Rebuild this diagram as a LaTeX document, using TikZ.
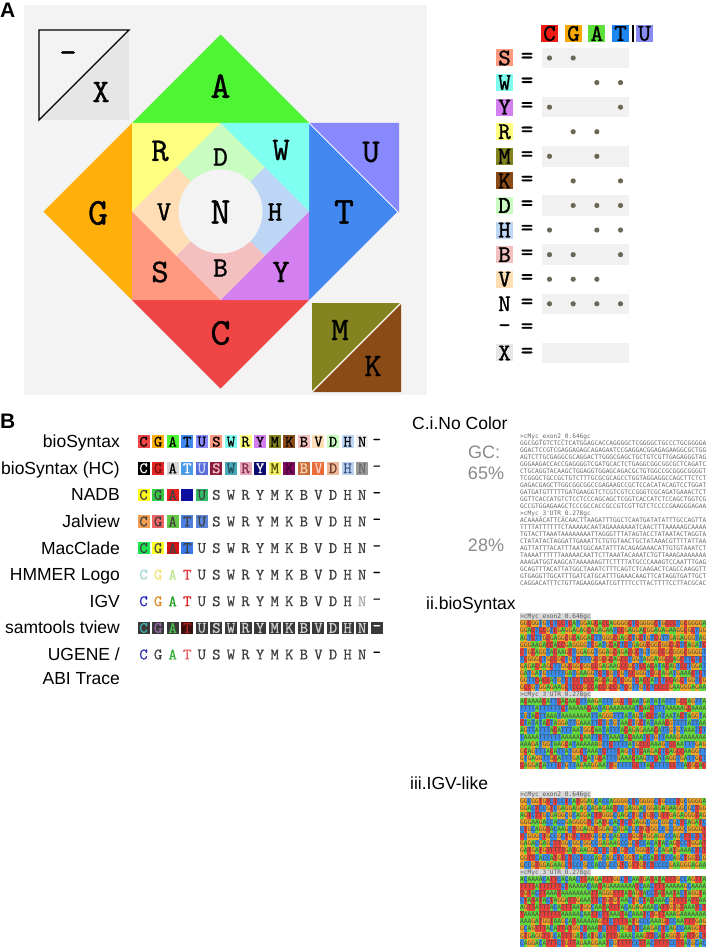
\documentclass[tikz,border=0pt]{standalone}
\usepackage{fontspec}
\setmainfont{Liberation Sans}
\newfontfamily\seqfont{DejaVu Sans Mono}
\newfontfamily\tyfont{lmmono10-regular.otf}[FakeBold=0.9]
\newfontfamily\tyfontB{lmmono10-regular.otf}[FakeBold=0.45]
% panel A colours
\definecolor{bgA}{HTML}{F3F3F3}
\definecolor{cA}{HTML}{4DF533}
\definecolor{cG}{HTML}{FFAE0A}
\definecolor{cC}{HTML}{F04545}
\definecolor{cT}{HTML}{4189F0}
\definecolor{cU}{HTML}{8888FF}
\definecolor{cR}{HTML}{FFFF80}
\definecolor{cW}{HTML}{7FFFEF}
\definecolor{cS}{HTML}{FF9A80}
\definecolor{cY}{HTML}{D47FEF}
\definecolor{cD}{HTML}{C8FCC0}
\definecolor{cH}{HTML}{BDD6F5}
\definecolor{cB}{HTML}{F4BFBF}
\definecolor{cV}{HTML}{FFDDB5}
\definecolor{cM}{HTML}{838320}
\definecolor{cK}{HTML}{8A4B16}
\definecolor{cX}{HTML}{E6E6E6}
\definecolor{nN}{HTML}{EEEEEE}
% legend
\definecolor{hC}{HTML}{EE1C14}
\definecolor{hG}{HTML}{F7A800}
\definecolor{hA}{HTML}{5EE03A}
\definecolor{hT}{HTML}{1E86F0}
\definecolor{hU}{HTML}{8A8AF5}
\definecolor{stripe}{HTML}{F1F1F1}
\definecolor{dotcol}{HTML}{6B6757}
% panel B
\definecolor{pl}{HTML}{404040}
\definecolor{hcG}{HTML}{E02828}\definecolor{hcGt}{HTML}{7A1010}
\definecolor{hcA}{HTML}{D6D6D6}
\definecolor{hcT}{HTML}{4C9BE8}
\definecolor{hcU}{HTML}{5A6ED8}\definecolor{hcUt}{HTML}{C8D0F8}
\definecolor{hcS}{HTML}{8E1B3A}\definecolor{hcSt}{HTML}{E8C0C8}
\definecolor{hcW}{HTML}{4AA6B8}\definecolor{hcWt}{HTML}{1F4F5A}
\definecolor{hcR}{HTML}{E6A5B8}\definecolor{hcRt}{HTML}{8A3050}
\definecolor{hcY}{HTML}{0C0C70}
\definecolor{hcM}{HTML}{F2EE66}\definecolor{hcMt}{HTML}{555500}
\definecolor{hcK}{HTML}{7D0B5E}\definecolor{hcKt}{HTML}{40002F}
\definecolor{hcB}{HTML}{C8703C}\definecolor{hcBt}{HTML}{F5D0B0}
\definecolor{hcV}{HTML}{EA6A38}\definecolor{hcVt}{HTML}{F8D0C0}
\definecolor{hcD}{HTML}{F0B898}\definecolor{hcDt}{HTML}{704030}
\definecolor{hcH}{HTML}{BCD0EE}\definecolor{hcHt}{HTML}{305080}
\definecolor{hcN}{HTML}{9A9A9A}\definecolor{hcNt}{HTML}{6A6A6A}
\definecolor{naY}{HTML}{FFFF1A}
\definecolor{naG}{HTML}{33CC44}
\definecolor{naR}{HTML}{E62020}
\definecolor{naB}{HTML}{0D0DA0}
\definecolor{naU}{HTML}{33BB66}
\definecolor{jaC}{HTML}{F2A054}
\definecolor{jaG}{HTML}{F26464}
\definecolor{jaA}{HTML}{64C846}
\definecolor{jaT}{HTML}{4C80DC}
\definecolor{jaU}{HTML}{5A84D8}
\definecolor{maC}{HTML}{1EE650}
\definecolor{maG}{HTML}{FFFF26}
\definecolor{maA}{HTML}{D41414}
\definecolor{maT}{HTML}{3C78E6}
\definecolor{hmC}{HTML}{A0D8D8}
\definecolor{hmG}{HTML}{F2E278}
\definecolor{hmA}{HTML}{BCE896}
\definecolor{hmT}{HTML}{E03838}
\definecolor{igvC}{HTML}{2323B8}
\definecolor{igvG}{HTML}{E08A23}
\definecolor{igvA}{HTML}{23A023}
\definecolor{igvT}{HTML}{E02323}
\definecolor{igvN}{HTML}{AAAAAA}
\definecolor{stBg}{HTML}{3A3A3A}
\definecolor{stT}{HTML}{3A1010}
\definecolor{stCt}{HTML}{3CB4B4}
\definecolor{stGt}{HTML}{9C6AAA}
\definecolor{stAt}{HTML}{4CC44C}
\definecolor{stTt}{HTML}{B02020}
\definecolor{stXt}{HTML}{CFCFCF}
\definecolor{ugC}{HTML}{3030A8}
\definecolor{ugA}{HTML}{30B030}
\definecolor{ugT}{HTML}{E06060}
% panel C
\definecolor{gcgray}{HTML}{8A8A8A}
\definecolor{seqgray}{HTML}{6A6A6A}
\definecolor{hdrbg}{HTML}{D8D8D8}
\definecolor{bsA}{HTML}{62D83C}
\definecolor{bsC}{HTML}{E8403A}
\definecolor{bsG}{HTML}{F5A626}
\definecolor{bsT}{HTML}{3A8CE8}
\definecolor{igA}{HTML}{62D83C}
\definecolor{igC}{HTML}{3A8CE8}
\definecolor{igG}{HTML}{F5A626}
\definecolor{igT}{HTML}{E8403A}

\newcount\seqi
\def\seqloop#1{%
  \ifx\relax#1%
  \else
    \edef\seqcol{\seqscheme#1}%
    \fill[fill=\seqcol] (\seqx+3.72*\the\seqi,\seqy) rectangle ++(3.9,7.2);%
    \advance\seqi by 1\relax
    \expandafter\seqloop
  \fi}
\def\drawcells#1#2#3#4{%
  \seqi=0\relax
  \def\seqx{#1}\def\seqy{#2}\def\seqscheme{#3}%
  \edef\seqtmp{#4}%
  \expandafter\seqloop\seqtmp\relax}

\def\exonlist{GGCGGTGTCTCCTCATGGAGCACCAGGGGCTCGGGGCTGCCCTGCGGGGA,GGACTCCGTCGAGGAGAGCAGAGAATCCGAGGACGGAGAGAAGGCGCTGG,AGTCTTGCGAGGCGCAGGACTTGGGCGAGCTGCTGTCGTTGAGAGGGTAG,GGGAAGACCACCGAGGGGTCGATGCACTCTGAGGCGGCGGCGCTCAGATC,CTGCAGGTACAAGCTGGAGGTGGAGCAGACGCTGTGGCCGCGGGCGGGGT,TCGGGCTGCCGCTGTCTTTGCGCGCAGCCTGGTAGGAGGCCAGCTTCTCT,GAGACGAGCTTGGCGGCGGCCGAGAAGCCGCTCCACATACAGTCCTGGAT,GATGATGTTTTTGATGAAGGTCTCGTCGTCCGGGTCGCAGATGAAACTCT,GGTTCACCATGTCTCCTCCCAGCAGCTCGGTCACCATCTCCAGCTGGTCG,GCCGTGGAGAAGCTCCCGCCACCGCCGTCGTTGTCTCCCCGAAGGGAGAA}
\def\utrlist{ACAAAACATTCACAACTTAAGATTTGGCTCAATGATATATTTGCCAGTTA,TTTTATTTTTTCTAAAAACAATAGAAAAAAATCAACTTTAAAAAGCAAAA,TGTACTTAAATAAAAAAAATTAGGGTTTATAGTACCTATAATACTAGGTA,CTATATACTAGGATTGAAATTCTGTGTAACTGCTATAAACGTTTTATTAA,AGTTATTTACATTTAATGGCAATATTTACAGAGAAACATTGTGTAAATCT,TAAAATTTTTTAAAAACAATTCTTAAATACAAATCTGTTAAAGAAAAAAA,AAAGATGGTAAGCATAAAAAAGTTCTTTTATGCCCAAAGTCCAATTTGAG,GCAGTTTACATTATGGCTAAATCTTTCAGTCTCAAGACTCAGCCAAGGTT,GTGAGGTTGCATTTGATCATGCATTTGAAACAAGTTCATAGGTGATTGCT,CAGGACATTTCTGTTAGAAGGAATCGTTTTCCTTACTTTTCCTTACGCAC}

\newcommand\brow[3]{%
  \foreach \l/\bg/\tc [count=\i from 0] in {#3}{%
    \node[bl, fill=\bg, text=\tc] (#1\i) at ({143.5+14.58*\i},#2) {\l};}}

\begin{document}
\begin{tikzpicture}[x=1pt,y=-1pt,
  plabel/.style={anchor=base west,inner sep=0,font=\fontsize{21}{21}\selectfont\bfseries},
  bigL/.style={inner sep=0,font=\tyfont\fontsize{38}{38}\selectfont},
  midL/.style={inner sep=0,font=\tyfont\fontsize{33}{33}\selectfont},
  smlL/.style={inner sep=0,font=\tyfont\fontsize{28}{28}\selectfont},
  legfont/.style={inner sep=0,font=\tyfont\fontsize{24}{24}\selectfont},
  legbox/.style={legfont,minimum width=17,minimum height=17},
  bl/.style={inner sep=0,minimum width=12,minimum height=12.5,font=\tyfontB\fontsize{16}{16}\selectfont},
  rowlab/.style={anchor=base east,inner sep=0,font=\fontsize{17.5}{17.5}\selectfont},
  ctitle/.style={anchor=base west,inner sep=0,font=\fontsize{17.5}{17.5}\selectfont},
  gctext/.style={anchor=base,inner sep=0,text=gcgray,font=\fontsize{18}{18}\selectfont},
  seqtxt/.style={anchor=base west,inner sep=0,font=\seqfont\fontsize{6.18}{6.18}\selectfont},
  ontxt/.style={seqtxt,text=black!72},
]
\useasboundingbox (0,0) rectangle (707,947);
\fill[white] (0,0) rectangle (707,947);

%% ---------------- Panel A ----------------
\node[plabel] (labA) at (0,18) {A};
\fill[bgA] (24,5) rectangle (427,395);
% gap / X box
\fill[cX] (39,120) -- (129,30) -- (129,120) -- cycle;
\draw[line width=1.3,line join=miter] (39,120) -- (39,30) -- (129,30) -- cycle;
\node[midL] (xdash) at (68,57) {-};
\node[midL] (xX) at (101,92) {X};
% outer triangles
\fill[cA] (132,123) -- (309,123) -- (220.5,34.5) -- cycle;
\fill[cG] (132,123) -- (132,300) -- (43.5,211.5) -- cycle;
\fill[cC] (132,300) -- (309,300) -- (220.5,388.5) -- cycle;
\fill[cU] (309,123) -- (399,123) -- (399,213) -- cycle;
\fill[cT] (309,123) -- (397.5,211.5) -- (309,300) -- cycle;
\draw[white,line width=0.8] (309,123) -- (398.5,212.5);
% corners
\fill[cR] (132,123) -- (220.5,123) -- (132,211.5) -- cycle;
\fill[cW] (220.5,123) -- (309,123) -- (309,211.5) -- cycle;
\fill[cY] (309,211.5) -- (309,300) -- (220.5,300) -- cycle;
\fill[cS] (132,211.5) -- (220.5,300) -- (132,300) -- cycle;
% inner diamond
\fill[cD] (220.5,123) -- (264.75,167.25) -- (220.5,211.5) -- (176.25,167.25) -- cycle;
\fill[cH] (264.75,167.25) -- (309,211.5) -- (264.75,255.75) -- (220.5,211.5) -- cycle;
\fill[cB] (220.5,211.5) -- (264.75,255.75) -- (220.5,300) -- (176.25,255.75) -- cycle;
\fill[cV] (176.25,167.25) -- (220.5,211.5) -- (176.25,255.75) -- (132,211.5) -- cycle;
\fill[bgA] (220.5,211.5) circle (42);
% M/K box
\fill[cM] (312,303) -- (401,303) -- (312,392) -- cycle;
\fill[cK] (401,303) -- (401,392) -- (312,392) -- cycle;
\draw[white,line width=1.2] (312,392) -- (401,303);
% letters
\node[bigL] (lA) at (220.5,86) {A};
\node[bigL] (lG) at (98,213) {G};
\node[bigL] (lC) at (220.5,333) {C};
\node[bigL] (lT) at (344,212) {T};
\node[bigL] (lN) at (220.5,212) {N};
\node[midL] (lU) at (371,152) {U};
\node[midL] (lR) at (160,151) {R};
\node[midL] (lW) at (281,150) {W};
\node[midL] (lS) at (160,272) {S};
\node[midL] (lY) at (281,272) {Y};
\node[midL] (lM) at (340,330) {M};
\node[midL] (lK) at (373,366) {K};
\node[smlL] (lD) at (220.5,157) {D};
\node[smlL] (lV) at (164,212) {V};
\node[smlL] (lH) at (275,212) {H};
\node[smlL] (lB) at (220.5,268) {B};

%% legend
\node[legbox,fill=hC] (hdC) at (549.5,33.5) {C};
\node[legbox,fill=hG] (hdG) at (573.5,33.5) {G};
\node[legbox,fill=hA] (hdA) at (596.8,33.5) {A};
\node[legbox,fill=hT] (hdT) at (620.5,33.5) {T};
\draw[line width=1.5] (633,25) -- (633,42);
\node[legbox,fill=hU] (hdU) at (644.5,33.5) {U};
\foreach \r in {0,2,...,12}
  \fill[stripe] (542,{58+24.58*\r-10.3}) rectangle (629,{58+24.58*\r+10.3});
\foreach \lab/\col [count=\r from 0] in {S/cS,W/cW,Y/cY,R/cR,M/cM,K/cK,D/cD,H/cH,B/cB,V/cV,N/none}{
  \node[legbox,fill=\col] (leg\r) at (504.5,{58+24.58*\r}) {\lab};
}
\node[legfont] (leg11) at (504.5,{58+24.58*11}) {-};
\node[legbox,fill=cX] (leg12) at (504.5,{58+24.58*12}) {X};
\foreach \r in {0,...,12}
  \node[legfont] (eq\r) at (527,{58+24.58*\r}) {=};
\foreach \r/\c in {0/0,0/1,1/2,1/3,2/0,2/3,3/1,3/2,4/0,4/2,5/1,5/3,6/1,6/2,6/3,7/0,7/2,7/3,8/0,8/1,8/3,9/0,9/1,9/2,10/0,10/1,10/2,10/3}
  \fill[dotcol] ({549.5+23.67*\c},{58+24.58*\r}) circle (2.6);

%% ---------------- Panel B ----------------
\node[plabel] (labB) at (0,428) {B};
\node[rowlab] (n1) at (120,447.7) {bioSyntax};
\node[rowlab] (n2) at (120,474.3) {bioSyntax (HC)};
\node[rowlab] (n3) at (120,500.9) {NADB};
\node[rowlab] (n4) at (120,527.5) {Jalview};
\node[rowlab] (n5) at (120,554.1) {MacClade};
\node[rowlab] (n6) at (120,580.7) {HMMER Logo};
\node[rowlab] (n7) at (120,607.3) {IGV};
\node[rowlab] (n8) at (120,633.9) {samtools tview};
\node[rowlab] (n9) at (120,660.5) {UGENE /};
\node[rowlab] (n10) at (120,684.5) {ABI Trace};

\brow{ra}{441.7}{C/cC/black,G/cG/black,A/cA/black,T/cT/black,U/cU/black,S/cS/black,W/cW/black,R/cR/black,Y/cY/black,M/cM/black,K/cK/black,B/cB/black,V/cV/black,D/cD/black,H/cH/black,N/nN/black,-/none/black}
\brow{rb}{468.3}{C/black/white,G/hcG/hcGt,A/hcA/black,T/hcT/white,U/hcU/hcUt,S/hcS/hcSt,W/hcW/hcWt,R/hcR/hcRt,Y/hcY/white,M/hcM/hcMt,K/hcK/hcKt,B/hcB/hcBt,V/hcV/hcVt,D/hcD/hcDt,H/hcH/hcHt,N/hcN/hcNt,-/none/black}
\brow{rc}{494.9}{C/naY/pl,G/naG/pl,A/naR/pl,T/naB/naB,U/naU/pl,S/none/pl,W/none/pl,R/none/pl,Y/none/pl,M/none/pl,K/none/pl,B/none/pl,V/none/pl,D/none/pl,H/none/pl,N/none/pl,-/none/black}
\brow{rd}{521.5}{C/jaC/pl,G/jaG/pl,A/jaA/pl,T/jaT/pl,U/jaU/pl,S/none/pl,W/none/pl,R/none/pl,Y/none/pl,M/none/pl,K/none/pl,B/none/pl,V/none/pl,D/none/pl,H/none/pl,N/none/pl,-/none/black}
\brow{re}{548.1}{C/maC/pl,G/maG/pl,A/maA/pl,T/maT/pl,U/none/pl,S/none/pl,W/none/pl,R/none/pl,Y/none/pl,M/none/pl,K/none/pl,B/none/pl,V/none/pl,D/none/pl,H/none/pl,N/none/pl,-/none/black}
\brow{rf}{574.7}{C/none/hmC,G/none/hmG,A/none/hmA,T/none/hmT,U/none/pl,S/none/pl,W/none/pl,R/none/pl,Y/none/pl,M/none/pl,K/none/pl,B/none/pl,V/none/pl,D/none/pl,H/none/pl,N/none/pl,-/none/black}
\brow{rg}{601.3}{C/none/igvC,G/none/igvG,A/none/igvA,T/none/igvT,U/none/pl,S/none/pl,W/none/pl,R/none/pl,Y/none/pl,M/none/pl,K/none/pl,B/none/pl,V/none/pl,D/none/pl,H/none/pl,N/none/igvN,-/none/black}
\brow{rh}{627.9}{C/stBg/stCt,G/stBg/stGt,A/stBg/stAt,T/stT/stTt,U/stBg/stXt,S/stBg/stXt,W/stBg/stXt,R/stBg/stXt,Y/stBg/stXt,M/stBg/stXt,K/stBg/stXt,B/stBg/stXt,V/stBg/stXt,D/stBg/stXt,H/stBg/stXt,N/stBg/stXt,-/stBg/white}
\brow{ri}{654.5}{C/none/ugC,G/none/pl,A/none/ugA,T/none/ugT,U/none/pl,S/none/pl,W/none/pl,R/none/pl,Y/none/pl,M/none/pl,K/none/pl,B/none/pl,V/none/pl,D/none/pl,H/none/pl,N/none/pl,-/none/black}

%% ---------------- Panel C ----------------
\node[ctitle] (ci) at (412,429.3) {C.i.No Color};
\node[gctext] (gc) at (484,458.3) {GC:};
\node[gctext] (p65) at (486,479.4) {65\%};
\node[gctext] (p28) at (486,551.4) {28\%};
% i: no colour
\node[seqtxt,text=seqgray] (ih1) at (520,438.2) {>cMyc\_exon2\_0.646gc};
\foreach \s [count=\r] in \exonlist
  \node[seqtxt,text=seqgray] (ie\r) at (520,{432.5+7*\r+5.7}) {\s};
\node[seqtxt,text=seqgray] (ih2) at (520,{432.5+7*11+5.7}) {>cMyc\_3'UTR\_0.278gc};
\foreach \s [count=\r from 12] in \utrlist
  \node[seqtxt,text=seqgray] (iu\r) at (520,{432.5+7*\r+5.7}) {\s};

% ii: bioSyntax
\node[ctitle] (cii) at (426,609.3) {ii.bioSyntax};
\fill[hdrbg] (520,613) rectangle (591,620.1);
\fill[hdrbg] (520,{613+7.09*11}) rectangle (591,{613+7.09*12});
\foreach \s [count=\r] in \exonlist {\drawcells{520}{613+7.09*\r}{bs}{\s}}
\foreach \s [count=\r from 12] in \utrlist {\drawcells{520}{613+7.09*\r}{bs}{\s}}
\node[seqtxt,text=black!65] (iih1) at (520,{613+5.75}) {>cMyc\_exon2\_0.646gc};
\node[seqtxt,text=black!65] (iih2) at (520,{613+7.09*11+5.75}) {>cMyc\_3'UTR\_0.278gc};
\foreach \s [count=\r] in \exonlist
  \node[ontxt] (iie\r) at (520,{613+7.09*\r+5.75}) {\s};
\foreach \s [count=\r from 12] in \utrlist
  \node[ontxt] (iiu\r) at (520,{613+7.09*\r+5.75}) {\s};

% iii: IGV-like
\node[ctitle] (ciii) at (410,789.3) {iii.IGV-like};
\fill[hdrbg] (520,790.5) rectangle (591,797.6);
\fill[hdrbg] (520,{790.5+7.09*11}) rectangle (591,{790.5+7.09*12});
\foreach \s [count=\r] in \exonlist {\drawcells{520}{790.5+7.09*\r}{ig}{\s}}
\foreach \s [count=\r from 12] in \utrlist {\drawcells{520}{790.5+7.09*\r}{ig}{\s}}
\node[seqtxt,text=black!65] (iiih1) at (520,{790.5+5.75}) {>cMyc\_exon2\_0.646gc};
\node[seqtxt,text=black!65] (iiih2) at (520,{790.5+7.09*11+5.75}) {>cMyc\_3'UTR\_0.278gc};
\foreach \s [count=\r] in \exonlist
  \node[ontxt] (iiie\r) at (520,{790.5+7.09*\r+5.75}) {\s};
\foreach \s [count=\r from 12] in \utrlist
  \node[ontxt] (iiiu\r) at (520,{790.5+7.09*\r+5.75}) {\s};
\end{tikzpicture}
\end{document}
